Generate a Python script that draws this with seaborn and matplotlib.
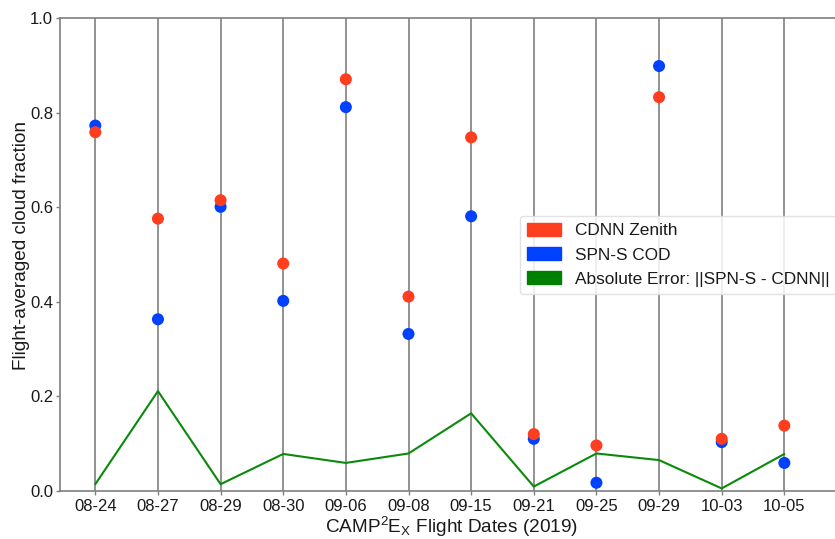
import matplotlib
matplotlib.use("Agg")
import matplotlib.pyplot as plt
import seaborn as sns
import pandas as pd
from matplotlib.patches import Patch

dates = ["08-24", "08-27", "08-29", "08-30", "09-06", "09-08",
         "09-15", "09-21", "09-25", "09-29", "10-03", "10-05"]
cdnn_zenith = [0.759, 0.576, 0.615, 0.481, 0.871, 0.411,
               0.748, 0.120, 0.096, 0.833, 0.110, 0.138]
spns_cod = [0.773, 0.363, 0.601, 0.402, 0.812, 0.332,
            0.581, 0.110, 0.017, 0.899, 0.103, 0.059]
abs_error = [0.014, 0.211, 0.014, 0.078, 0.059, 0.079,
             0.164, 0.009, 0.079, 0.065, 0.005, 0.078]

RED = "#FF3D1F"
BLUE = "#0040FF"
GREEN = "#0A8A0A"
GRAY = "#7F7F7F"

sns.set_style("ticks")
plt.rcParams['font.family'] = ['Liberation Sans', 'DejaVu Sans']
plt.rcParams['mathtext.fontset'] = 'custom'
plt.rcParams['mathtext.rm'] = 'Liberation Sans'
plt.rcParams['mathtext.it'] = 'Liberation Sans:italic'
plt.rcParams['mathtext.bf'] = 'Liberation Sans:bold'

df = pd.DataFrame({"date": dates, "cdnn": cdnn_zenith,
                   "spns": spns_cod, "err": abs_error})

W, H = 835, 539
fig = plt.figure(figsize=(W / 100, H / 100), dpi=100)
left_px, right_px, top_px, bot_px = 60, 842, 18.3, 490.8
ax = fig.add_axes([left_px / W, (H - bot_px) / H,
                   (right_px - left_px) / W, (bot_px - top_px) / H])

ax.grid(axis='x', color=GRAY, lw=1.2)
ax.grid(axis='y', visible=False)
ax.set_axisbelow(True)

sns.lineplot(data=df, x="date", y="err", color=GREEN, lw=1.5,
             ax=ax, sort=False, zorder=2)
sns.scatterplot(data=df, x="date", y="spns", color=BLUE, s=75,
                edgecolor="none", ax=ax, zorder=3)
sns.scatterplot(data=df, x="date", y="cdnn", color=RED, s=75,
                edgecolor="none", ax=ax, zorder=4)

tick0, step = 95.3, 62.64
ax.set_xlim((left_px - tick0) / step, (right_px - tick0) / step)
ax.set_ylim(0, 1.0)
ax.set_yticks([0.0, 0.2, 0.4, 0.6, 0.8, 1.0])
ax.set_yticklabels(["0.0", "0.2", "0.4", "0.6", "0.8", "1.0"])

for sp in ["left", "bottom", "top"]:
    ax.spines[sp].set_color(GRAY)
    ax.spines[sp].set_linewidth(1.2)
ax.spines["right"].set_visible(False)
ax.tick_params(axis='both', colors=GRAY, labelcolor="#1a1a1a",
               labelsize=12, length=3, width=1)
ax.tick_params(axis='y', pad=2)
ax.tick_params(axis='x', pad=3)

ax.set_xlabel(r"CAMP$^{2}$E$_{\mathrm{X}}$ Flight Dates (2019)",
              fontsize=13.7, color="#1a1a1a", labelpad=0.5)
ax.set_ylabel("Flight-averaged cloud fraction", fontsize=13.7, color="#1a1a1a")
ax.yaxis.set_label_coords(-0.038, 0.52)

handles = [Patch(facecolor=RED, edgecolor=RED),
           Patch(facecolor=BLUE, edgecolor=BLUE),
           Patch(facecolor="#008000", edgecolor="#008000")]
labels = ["CDNN Zenith", "SPN-S COD", "Absolute Error: ||SPN-S - CDNN||"]
leg = fig.legend(handles, labels, loc="upper left",
                 bbox_to_anchor=(520 / W, 1 - 216 / H), borderaxespad=0,
                 fontsize=12.4, handlelength=2.0, handleheight=0.8,
                 labelspacing=0.5, frameon=True, fancybox=True,
                 framealpha=0.85, edgecolor="#dddddd")
for t in leg.get_texts():
    t.set_color("#1a1a1a")

fig.savefig("out.png", dpi=100)
